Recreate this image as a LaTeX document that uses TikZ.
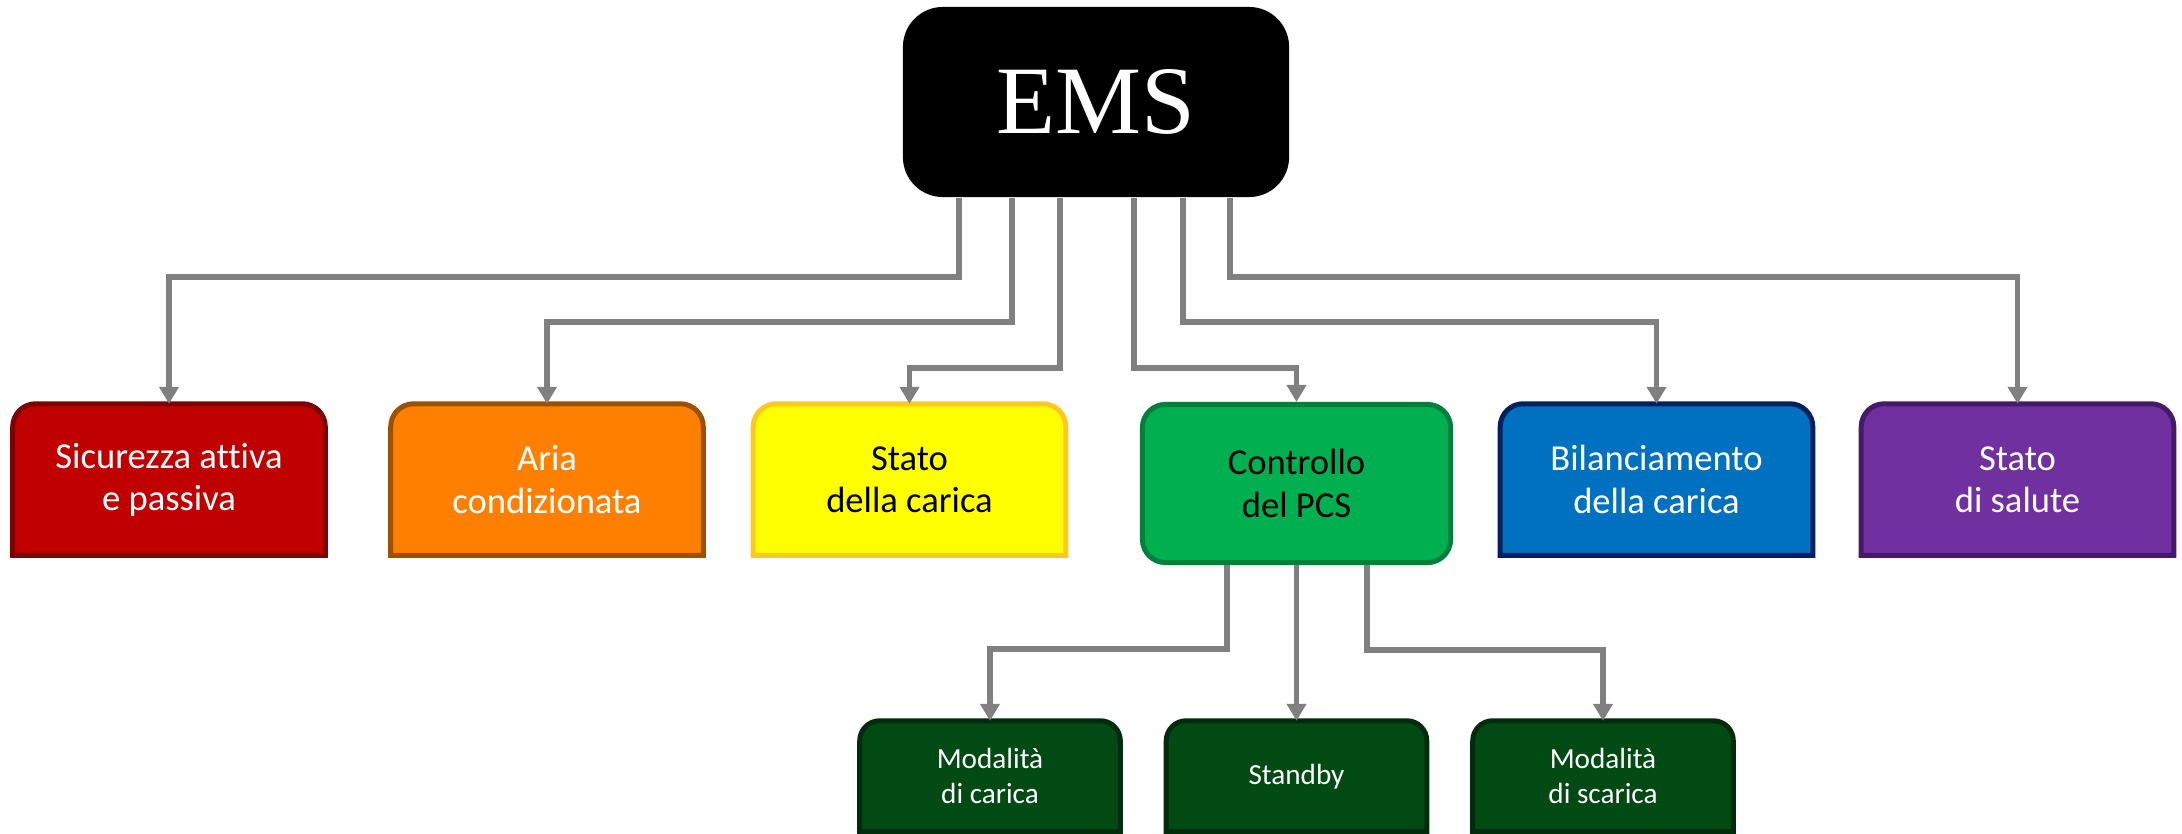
\documentclass[tikz,border=0pt]{standalone}
\usepackage{fontspec}
\setmainfont{Carlito}[Ligatures=CommonOff]
\newfontfamily\emsfont{Liberation Serif}
\usetikzlibrary{arrows.meta,backgrounds,calc}
\definecolor{redF}{HTML}{C00000}\definecolor{redD}{HTML}{7F0000}
\definecolor{oraF}{HTML}{FF8000}\definecolor{oraD}{HTML}{9C5000}
\definecolor{yelF}{HTML}{FFFF00}\definecolor{yelD}{HTML}{FFC820}
\definecolor{grnF}{HTML}{00B050}\definecolor{grnD}{HTML}{00803A}
\definecolor{bluF}{HTML}{0070C0}\definecolor{bluD}{HTML}{002060}
\definecolor{purF}{HTML}{7030A0}\definecolor{purD}{HTML}{46196A}
\definecolor{dgrF}{HTML}{024A14}\definecolor{dgrD}{HTML}{012C0B}
\definecolor{conncol}{HTML}{808080}
\newcommand\tabbox[4]{%
\begin{scope}[on background layer]
\draw[line width=0.05cm, draw=#3, fill=#2] (#1.south west) -- ([yshift=-#4]#1.north west) arc[start angle=180,end angle=90,radius=#4] -- ([xshift=-#4]#1.north east) arc[start angle=90,end angle=0,radius=#4] -- (#1.south east) -- cycle;
\end{scope}}
\tikzset{
  topbox/.style={inner sep=0pt, minimum width=3.11cm, minimum height=1.50cm, align=center, font=\fontsize{10.4}{12}\selectfont},
  subbox/.style={inner sep=0pt, minimum width=2.59cm, minimum height=1.095cm, align=center, text=white, font=\fontsize{8.3}{10}\selectfont},
  connector/.style={draw=conncol, line width=0.058cm, -{Triangle[width=0.19cm,length=0.17cm]}}
}
\begin{document}
\begin{tikzpicture}[x=0.01cm, y=-0.01cm]
\useasboundingbox (0,0) rectangle (2182,833);
% root
\node[fill=black, rounded corners=0.4cm, minimum width=3.86cm, minimum height=1.90cm, inner sep=0pt, text=white, font=\emsfont\fontsize{27.5}{30}\selectfont] (ems) at (1096,102) {EMS};
% top row
\node[topbox, text=white] (sic) at (169,479.5) {Sicurezza attiva\\e passiva};
\tabbox{sic}{redF}{redD}{0.23cm}
\node[topbox, text=white] (aria) at (547,479.5) {Aria\\condizionata};
\tabbox{aria}{oraF}{oraD}{0.23cm}
\node[topbox, text=black] (soc) at (909.5,479.5) {Stato\\della carica};
\tabbox{soc}{yelF}{yelD}{0.23cm}
\node[topbox, text=black, minimum width=3.08cm, minimum height=1.58cm, draw=grnD, fill=grnF, line width=0.05cm, rounded corners=0.23cm] (ctl) at (1296.5,483.5) {Controllo\\del PCS};
\node[topbox, text=white] (bil) at (1656.5,479.5) {Bilanciamento\\della carica};
\tabbox{bil}{bluF}{bluD}{0.23cm}
\node[topbox, text=white] (soh) at (2017.5,479.5) {Stato\\di salute};
\tabbox{soh}{purF}{purD}{0.23cm}
% bottom row
\node[subbox] (mc) at (990,776.25) {Modalità\\di carica};
\tabbox{mc}{dgrF}{dgrD}{0.2cm}
\node[subbox] (sb) at (1296.5,776.25) {Standby};
\tabbox{sb}{dgrF}{dgrD}{0.2cm}
\node[subbox] (ms) at (1603,776.25) {Modalità\\di scarica};
\tabbox{ms}{dgrF}{dgrD}{0.2cm}
% connectors from EMS
\draw[connector] ([xshift=-1.37cm]ems.south) -- ++(0,79) -| (sic.north);
\draw[connector] ([xshift=-0.84cm]ems.south) -- ++(0,124) -| (aria.north);
\draw[connector] ([xshift=-0.36cm]ems.south) -- ++(0,170) -| (soc.north);
\draw[connector] ([xshift=0.38cm]ems.south) -- ++(0,170) -| (ctl.north);
\draw[connector] ([xshift=0.87cm]ems.south) -- ++(0,124) -| (bil.north);
\draw[connector] ([xshift=1.34cm]ems.south) -- ++(0,79) -| (soh.north);
% connectors from Controllo
\draw[connector] ([xshift=-0.695cm]ctl.south) -- ++(0,84) -| (mc.north);
\draw[connector] (ctl.south) -- (sb.north);
\draw[connector] ([xshift=0.705cm]ctl.south) -- ++(0,85) -| (ms.north);
\end{tikzpicture}
\end{document}
